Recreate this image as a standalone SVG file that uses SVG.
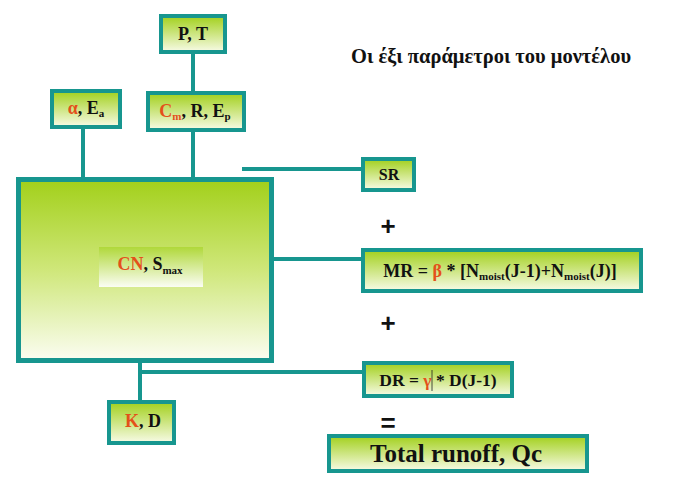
<svg xmlns="http://www.w3.org/2000/svg" width="678" height="484" viewBox="0 0 678 484">
<defs>
<linearGradient id="g" x1="0" y1="0" x2="0" y2="1">
<stop offset="0" stop-color="#a2d01c"/>
<stop offset="1" stop-color="#f8fbe8"/>
</linearGradient>
<linearGradient id="gm" x1="0" y1="0" x2="0" y2="1">
<stop offset="0" stop-color="#a2d01a"/>
<stop offset="0.5" stop-color="#cfe77a"/>
<stop offset="1" stop-color="#fbfdf2"/>
</linearGradient>
<linearGradient id="gi" x1="0" y1="0" x2="0" y2="1">
<stop offset="0" stop-color="#b0d83a"/>
<stop offset="1" stop-color="#fbfdf4"/>
</linearGradient>
</defs>
<style>
.box{fill:url(#g);stroke:#17968f;stroke-width:4}
.main{fill:url(#gm);stroke:#17968f;stroke-width:5}
.con{stroke:#17968f;stroke-width:4;fill:none}
.t{font-weight:bold;fill:#111;text-anchor:middle}
.o{fill:#e4501a}
.op{font-weight:bold;fill:#111;text-anchor:middle}
</style>
<rect width="678" height="484" fill="#ffffff"/>
<text class="t" font-family="Liberation Serif, DejaVu Serif, serif" x="491" y="63" font-size="20.5">Οι έξι παράμετροι του μοντέλου</text>
<g id="connectors">
<line class="con" x1="193" y1="54" x2="193" y2="92"/>
<line class="con" x1="83" y1="129" x2="83" y2="178"/>
<line class="con" x1="193" y1="131" x2="193" y2="178"/>
<line class="con" x1="242" y1="169" x2="362" y2="169"/>
<line class="con" x1="273" y1="259" x2="362" y2="259"/>
<polyline class="con" points="140,362 140,372 363,372"/>
<line class="con" x1="140" y1="372" x2="140" y2="401"/>
</g>
<g id="node-PT">
<rect class="box" x="161" y="16" width="64" height="36"/>
<text class="t" font-family="Liberation Serif, serif" x="193" y="40" font-size="18">P, T</text>
</g>
<g id="node-aEa">
<rect class="box" x="52" y="91" width="68" height="36"/>
<text class="t" font-family="Liberation Serif, serif" x="86" y="114" font-size="18"><tspan class="o">α</tspan>, E<tspan font-size="11" dy="3">a</tspan></text>
</g>
<g id="node-CmREp">
<rect class="box" x="148" y="93" width="96" height="37"/>
<text class="t" font-family="Liberation Serif, serif" x="195" y="117" font-size="18"><tspan class="o">C<tspan font-size="11" dy="3">m</tspan></tspan><tspan dy="-3">, R, E</tspan><tspan font-size="11" dy="3">p</tspan></text>
</g>
<g id="node-main">
<rect class="main" x="18.5" y="179.5" width="253" height="181"/>
<rect x="99" y="247" width="104" height="40" fill="url(#gi)"/>
<text class="t" font-family="Liberation Serif, serif" x="150" y="270" font-size="18"><tspan class="o">CN</tspan>, S<tspan font-size="11" dy="4">max</tspan></text>
</g>
<g id="node-SR">
<rect class="box" x="363" y="159" width="51" height="31"/>
<text class="t" font-family="Liberation Serif, serif" x="389" y="180" font-size="16">SR</text>
</g>
<text class="op" font-family="Liberation Sans, sans-serif" x="388" y="235" font-size="26">+</text>
<g id="node-MR">
<rect class="box" x="363" y="250" width="278" height="41"/>
<text class="t" font-family="Liberation Serif, serif" x="500" y="277" font-size="18">MR = <tspan class="o">β</tspan> * [N<tspan font-size="11" dy="3">moist</tspan><tspan dy="-3">(J-1)+N</tspan><tspan font-size="11" dy="3">moist</tspan><tspan dy="-3">(J)]</tspan></text>
</g>
<text class="op" font-family="Liberation Sans, sans-serif" x="388" y="332" font-size="26">+</text>
<g id="node-DR">
<rect class="box" x="364" y="363" width="148" height="33"/>
<text class="t" font-family="Liberation Serif, serif" x="438" y="386" font-size="17.5">DR = <tspan class="o">γ</tspan> * D(J-1)</text>
<line x1="432" y1="370" x2="432" y2="391" stroke="#222" stroke-width="0.8"/>
</g>
<g id="node-KD">
<rect class="box" x="109" y="402" width="65" height="41"/>
<text class="t" font-family="Liberation Serif, serif" x="143" y="427" font-size="18"><tspan class="o">K</tspan>, D</text>
</g>
<text class="op" font-family="Liberation Sans, sans-serif" x="388" y="432" font-size="26">=</text>
<g id="node-Total">
<rect class="box" x="329" y="436" width="258" height="35"/>
<text class="t" font-family="Liberation Serif, serif" x="456" y="462" font-size="25">Total runoff, Qc</text>
</g>
</svg>
